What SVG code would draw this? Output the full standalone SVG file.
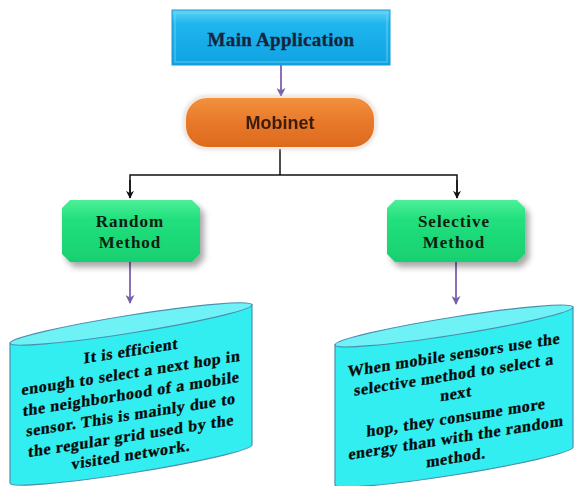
<svg xmlns="http://www.w3.org/2000/svg" width="575" height="486" viewBox="0 0 575 486">
  <defs>
    <linearGradient id="gBlue" x1="0" y1="0" x2="0" y2="1">
      <stop offset="0" stop-color="#5fd2f6"/>
      <stop offset="0.25" stop-color="#1fb6ee"/>
      <stop offset="1" stop-color="#0fa2e2"/>
    </linearGradient>
    <linearGradient id="gOrange" x1="0" y1="0" x2="0" y2="1">
      <stop offset="0" stop-color="#f2923e"/>
      <stop offset="0.5" stop-color="#e8782a"/>
      <stop offset="1" stop-color="#dc6a1c"/>
    </linearGradient>
    <linearGradient id="gGreen" x1="0" y1="0" x2="0" y2="1">
      <stop offset="0" stop-color="#4ef09a"/>
      <stop offset="0.3" stop-color="#22e07e"/>
      <stop offset="1" stop-color="#18d070"/>
    </linearGradient>
    <filter id="shadow" x="-20%" y="-20%" width="150%" height="160%">
      <feDropShadow dx="4" dy="5" stdDeviation="3" flood-color="#000" flood-opacity="0.35"/>
    </filter>
    <filter id="glow" x="-10%" y="-20%" width="120%" height="140%">
      <feDropShadow dx="0" dy="0" stdDeviation="2" flood-color="#c8c8c8" flood-opacity="0.8"/>
    </filter>
    <marker id="arrowBlack" viewBox="0 0 10 10" refX="9" refY="5" markerWidth="8" markerHeight="8" markerUnits="userSpaceOnUse" orient="auto">
      <path d="M0,0 L10,5 L0,10 L3,5 z" fill="#111"/>
    </marker>
    <marker id="arrowPurple" viewBox="0 0 10 10" refX="9" refY="5" markerWidth="9" markerHeight="9" markerUnits="userSpaceOnUse" orient="auto">
      <path d="M0,0 L10,5 L0,10 L3,5 z" fill="#7a5ea6"/>
    </marker>
  </defs>
  <style>
    .serif { font-family: "Liberation Serif", "Times New Roman", serif; font-weight: bold; }
    .sans { font-family: "Liberation Sans", Arial, sans-serif; font-weight: bold; }
    .purple { stroke: #8a70b4; stroke-width: 2; fill: none; }
    .black { stroke: #111; stroke-width: 1.5; fill: none; }
    .cylBody { fill: #33eef0; stroke: #4a8fb0; stroke-width: 1.2; }
    .cylTop { fill: #6ff2f6; stroke: #4a8fb0; stroke-width: 1.2; }
    .cylText { font-size: 16px; letter-spacing: 0.6px; fill: #0a0a0a; text-anchor: middle; stroke: #0a0a0a; stroke-width: 0.3px; }
  </style>

  <rect width="575" height="486" fill="#ffffff"/>

  <!-- connectors -->
  <g id="connectors">
    <line class="purple" x1="281" y1="65" x2="281" y2="96" marker-end="url(#arrowPurple)"/>
    <polyline class="black" points="280,148 280,175"/>
    <polyline class="black" points="130,198 130,175 457,175 457,198"/>
    <line class="black" x1="130" y1="180" x2="130" y2="198" marker-end="url(#arrowBlack)"/>
    <line class="black" x1="457" y1="180" x2="457" y2="198" marker-end="url(#arrowBlack)"/>
    <line class="purple" x1="130" y1="262" x2="130" y2="303" marker-end="url(#arrowPurple)"/>
    <line class="purple" x1="456" y1="262" x2="456" y2="304" marker-end="url(#arrowPurple)"/>
  </g>

  <!-- Main Application -->
  <g id="main-application">
    <rect x="172" y="10" width="218" height="55" fill="url(#gBlue)" stroke="#1a9ad2" stroke-width="1"/>
    <rect x="175" y="13" width="212" height="49" fill="none" stroke="#7fdcf8" stroke-width="1" opacity="0.7"/>
    <text class="serif" x="281" y="46" font-size="19" letter-spacing="0.3" fill="#16243e" stroke="#16243e" stroke-width="0.3" text-anchor="middle">Main Application</text>
  </g>

  <!-- Mobinet -->
  <g id="mobinet" filter="url(#glow)">
    <rect x="185" y="97" width="190" height="51" rx="22" ry="22" fill="url(#gOrange)" stroke="#f6e8dc" stroke-width="2"/>
    <text class="sans" x="280" y="129" font-size="18" fill="#3a1e0c" text-anchor="middle">Mobinet</text>
  </g>

  <!-- Random Method -->
  <g id="random-method">
    <polygon points="70,200 192,200 200,208 200,254 192,262 70,262 62,254 62,208" fill="url(#gGreen)" filter="url(#shadow)"/>
    <text class="serif" x="130" y="227" font-size="17" letter-spacing="1" fill="#0b2010" text-anchor="middle">Random</text>
    <text class="serif" x="130" y="248" font-size="17" letter-spacing="1" fill="#0b2010" text-anchor="middle">Method</text>
  </g>

  <!-- Selective Method -->
  <g id="selective-method">
    <polygon points="395,200 517,200 525,208 525,254 517,262 395,262 387,254 387,208" fill="url(#gGreen)" filter="url(#shadow)"/>
    <text class="serif" x="454" y="227" font-size="17" letter-spacing="1" fill="#0b2010" text-anchor="middle">Selective</text>
    <text class="serif" x="454" y="248" font-size="17" letter-spacing="1" fill="#0b2010" text-anchor="middle">Method</text>
  </g>

  <!-- Random method note (tilted cylinder) -->
  <g id="random-note" transform="translate(131,324) skewY(-9)">
    <path class="cylBody" d="M-121,0 L-121,140 A121,9 0 0 0 121,140 L121,0 z"/>
    <ellipse class="cylTop" cx="0" cy="0" rx="121" ry="9"/>
    <g class="serif cylText">
      <text x="0" y="32">It is efficient</text>
      <text x="0" y="54">enough to select a next hop in</text>
      <text x="0" y="75">the neighborhood of a mobile</text>
      <text x="0" y="96">sensor. This is mainly due to</text>
      <text x="0" y="117">the regular grid used by the</text>
      <text x="0" y="136">visited network.</text>
    </g>
  </g>

  <!-- Selective method note (tilted cylinder) -->
  <g id="selective-note" transform="translate(454,326) skewY(-9)">
    <path class="cylBody" d="M-119,0 L-119,140 A119,9 0 0 0 119,140 L119,0 z"/>
    <ellipse class="cylTop" cx="0" cy="0" rx="119" ry="9"/>
    <g class="serif cylText">
      <text x="0" y="34">When mobile sensors use the</text>
      <text x="0" y="54">selective  method to select  a</text>
      <text x="2" y="73">next</text>
      <text x="2" y="97">hop, they consume more</text>
      <text x="2" y="117">energy than with the random</text>
      <text x="2" y="137">method.</text>
    </g>
  </g>
</svg>
